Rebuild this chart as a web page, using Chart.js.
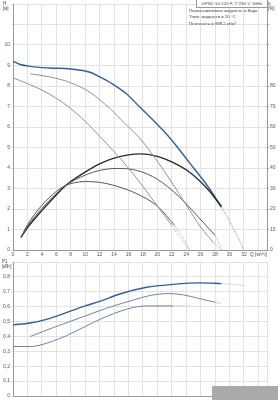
<!DOCTYPE html>
<html>
<head>
<meta charset="utf-8">
<script src="https://cdn.jsdelivr.net/npm/chart.js@4/dist/chart.umd.min.js"></script>
<style>
  body { margin: 0; background: #fff; }
  #wrap { position: relative; width: 278px; height: 400px; overflow: hidden; font-family: "Liberation Sans", Arial, sans-serif; color: #444; }
  canvas { position: absolute; left: 0; }
  .lbl { position: absolute; font-size: 4.5px; line-height: 5px; white-space: nowrap; }
  #info { position: absolute; left: 189px; top: 8px; font-size: 4.3px; line-height: 6.3px; white-space: nowrap; }
  #pump { position: absolute; left: 196px; top: -1px; width: 70px; height: 7px; border: 1px solid #999; font-size: 4.4px; line-height: 7px; text-align: center; white-space: nowrap; background: #fff; }
  #mark { position: absolute; left: 212px; top: 386px; width: 66px; height: 14px; background: #aaa; }
</style>
</head>
<body>
<div id="wrap">
  <canvas id="topChart" width="278" height="258" style="top:0"></canvas>
  <canvas id="botChart" width="278" height="142" style="top:258px"></canvas>
  <div class="lbl" style="left:3px;top:1px">H<br>[м]</div>
  <div class="lbl" style="left:268px;top:1px">η<br>[%]</div>
  <div class="lbl" style="left:2px;top:259px">P1<br>[кВт]</div>
  <div id="pump">UPSD 50-120 F, 1*230 V, 50Hz</div>
  <div id="info">Перекачиваемая жидкость = Вода<br>Темп. жидкости = 20 °C<br>Плотность = 998.2 кг/м³</div>
  <div id="mark"></div>
</div>
<script>
// H curves [m]
var qHMax = [0, 1, 2.4, 5, 8, 10.7, 12, 13.5, 15.8, 17.6, 19, 21.8, 24.5, 27.3, 28.9];
var hMax = [9.2, 9.05, 8.96, 8.88, 8.83, 8.67, 8.45, 8.16, 7.6, 6.96, 6.48, 5.44, 4.24, 2.96, 2.08];
var qHMaxTail = [28.9, 30, 31, 32];
var hMaxTail = [2.08, 1.42, 0.74, 0];

var qHMid = [2.4, 5, 8, 10.7, 13.5, 15.3, 17.6, 19.7, 22, 24, 26, 27.8];
var hMid = [8.59, 8.45, 8.16, 7.68, 6.88, 6.24, 5.44, 4.48, 3.3, 2.2, 1.12, 0.35];
var qHMidTail = [27.8, 28.9];
var hMidTail = [0.35, 0];

var qHLow = [0, 2, 4, 6, 8, 10, 12, 14, 16, 18, 20, 22];
var hLow = [8.4, 8.12, 7.8, 7.4, 6.9, 6.28, 5.55, 4.8, 4.0, 3.1, 2.15, 1.2];
var qHLowTail = [22, 23.3, 24.5];
var hLowTail = [1.2, 0.55, 0];

// efficiency curves [%]
var qEtaMax = [1.1, 2, 4, 6, 7.3, 10, 12, 14, 16, 17.5, 20, 22, 24.3, 27, 28.9];
var etaMax = [6.2, 10.8, 19.2, 26.8, 31.5, 38, 42, 44.8, 46.4, 46.9, 45.7, 43, 38.4, 29.6, 21.1];
var qEtaMaxTail = [28.9, 30, 31, 32];
var etaMaxTail = [21.1, 14.3, 7.4, 0];

var qEtaMid = [1.1, 2, 4, 6, 7.3, 10, 12, 14.5, 17.3, 20, 22.9, 25.7, 28];
var etaMid = [6.2, 11.5, 20.3, 27.5, 31.5, 36.5, 38.8, 39.8, 38.7, 34.5, 26.4, 16, 7.2];
var qEtaMidTail = [28, 29];
var etaMidTail = [7.2, 0];

var qEtaLow = [1.1, 2, 4, 6, 7.3, 8.5, 10, 12, 14, 17.3, 20.1, 22.4];
var etaLow = [6.2, 12.3, 21.8, 28.6, 31.5, 32.8, 33.4, 33, 31.5, 27.2, 21.1, 12];
var qEtaLowTail = [22.4, 23.5, 24.5];
var etaLowTail = [12, 6.5, 0];

// power curves [kW]
var qP1Max = [0, 2.4, 5, 7.4, 10, 12, 14.8, 18.5, 22.2, 25.9, 28.9];
var p1Max = [0.478, 0.49, 0.52, 0.56, 0.605, 0.635, 0.685, 0.73, 0.75, 0.76, 0.755];
var qP1MaxTail = [28.9, 30.5, 32.2];
var p1MaxTail = [0.755, 0.75, 0.74];

var qP1Mid = [2.4, 5.6, 9.3, 13, 16.7, 19, 21.5, 23.5, 25.7, 28];
var p1Mid = [0.40, 0.46, 0.525, 0.59, 0.645, 0.675, 0.688, 0.68, 0.656, 0.63];
var qP1MidTail = [28, 28.9];
var p1MidTail = [0.63, 0.62];

var qP1Low = [0, 2.4, 4, 5.6, 7.4, 9.3, 13, 16.7, 18.5, 22.2];
var p1Low = [0.333, 0.332, 0.345, 0.37, 0.405, 0.45, 0.535, 0.595, 0.605, 0.605];
var qP1LowTail = [22.2, 24.5];
var p1LowTail = [0.605, 0.606];

var xTicks = [0, 2, 4, 6, 8, 10, 12, 14, 16, 18, 20, 22, 24, 26, 28, 30, 32];

function pts(xs, ys) {
  return xs.map(function (x, i) { return { x: x, y: ys[i] }; });
}

function line(xs, ys, color, width, axis, dash) {
  return {
    data: pts(xs, ys),
    borderColor: color,
    borderWidth: width,
    borderDash: dash || [],
    pointRadius: 0,
    fill: false,
    cubicInterpolationMode: 'monotone',
    yAxisID: axis || 'y'
  };
}

var blue = '#2f609c';
var greyBlue = '#8793aa';
var dark = '#2b2b2b';
var darkGrey = '#575757';
var tail = '#c4c4c4';
var font = { family: 'Liberation Sans', size: 5 };
var gridColor = '#e2e2e2';

new Chart(document.getElementById('topChart'), {
  type: 'line',
  data: {
    datasets: [
      line(qHMaxTail, hMaxTail, tail, 1, 'y', [2, 1]),
      line(qHMidTail, hMidTail, tail, 1, 'y', [2, 1]),
      line(qHLowTail, hLowTail, tail, 1, 'y', [2, 1]),
      line(qEtaMaxTail, etaMaxTail, tail, 1, 'y2', [2, 1]),
      line(qEtaMidTail, etaMidTail, tail, 1, 'y2', [2, 1]),
      line(qEtaLowTail, etaLowTail, tail, 1, 'y2', [2, 1]),
      line(qHLow, hLow, greyBlue, 1),
      line(qHMid, hMid, greyBlue, 1),
      line(qEtaLow, etaLow, darkGrey, 1, 'y2'),
      line(qEtaMid, etaMid, darkGrey, 1, 'y2'),
      line(qEtaMax, etaMax, dark, 1.4, 'y2'),
      line(qHMax, hMax, blue, 1.4)
    ]
  },
  options: {
    responsive: false,
    animation: false,
    layout: { padding: 0 },
    plugins: { legend: { display: false }, tooltip: { enabled: false } },
    scales: {
      x: {
        type: 'linear', min: 0, max: 35.2,
        afterBuildTicks: function (s) {
          s.ticks = xTicks.concat([34, 35.2]).map(function (v) { return { value: v }; });
        },
        afterFit: function (s) { s.height = 8; },
        grid: { color: gridColor, tickLength: 0 },
        border: { color: '#9a9a9a' },
        ticks: {
          font: font, color: '#555', padding: 2, maxRotation: 0, autoSkip: false,
          callback: function (v) { return v === 34 ? 'Q [м³/ч]' : (xTicks.indexOf(v) >= 0 ? String(v) : ''); }
        }
      },
      y: {
        min: 0, max: 12,
        afterFit: function (s) { s.width = 13; },
        grid: { color: gridColor, tickLength: 2 },
        border: { color: '#9a9a9a' },
        ticks: {
          stepSize: 1, font: font, color: '#555', padding: 1,
          callback: function (v) { return v <= 10 ? String(v) : ''; }
        }
      },
      y2: {
        position: 'right', min: 0, max: 120,
        afterFit: function (s) { s.width = 11; },
        grid: { drawOnChartArea: false, tickLength: 2, color: '#9a9a9a' },
        border: { color: '#9a9a9a' },
        ticks: {
          stepSize: 10, font: font, color: '#555', padding: 1,
          callback: function (v) { return v <= 80 ? String(v) : ''; }
        }
      }
    }
  }
});

new Chart(document.getElementById('botChart'), {
  type: 'line',
  data: {
    datasets: [
      line(qP1MaxTail, p1MaxTail, tail, 1, 'y', [2, 1]),
      line(qP1MidTail, p1MidTail, tail, 1, 'y', [2, 1]),
      line(qP1LowTail, p1LowTail, tail, 1, 'y', [2, 1]),
      line(qP1Low, p1Low, '#6f83ab', 1),
      line(qP1Mid, p1Mid, '#6f83ab', 1),
      line(qP1Max, p1Max, blue, 1.4)
    ]
  },
  options: {
    responsive: false,
    animation: false,
    layout: { padding: { top: 1, right: 11, left: 0, bottom: 0 } },
    plugins: { legend: { display: false }, tooltip: { enabled: false } },
    scales: {
      x: {
        type: 'linear', min: 0, max: 35.2,
        afterBuildTicks: function (s) {
          s.ticks = xTicks.concat([34, 35.2]).map(function (v) { return { value: v }; });
        },
        afterFit: function (s) { s.height = 4; },
        grid: { color: gridColor, tickLength: 0 },
        border: { color: '#9a9a9a' },
        ticks: { display: false }
      },
      y: {
        min: 0, max: 0.9,
        afterFit: function (s) { s.width = 13; },
        grid: { color: gridColor, tickLength: 2 },
        border: { color: '#9a9a9a' },
        ticks: {
          stepSize: 0.1, font: font, color: '#555', padding: 1,
          callback: function (v) {
            if (v > 0.85) return '';
            return String(Math.round(v * 10) / 10).replace('.', ',');
          }
        }
      }
    }
  }
});
</script>
</body>
</html>
